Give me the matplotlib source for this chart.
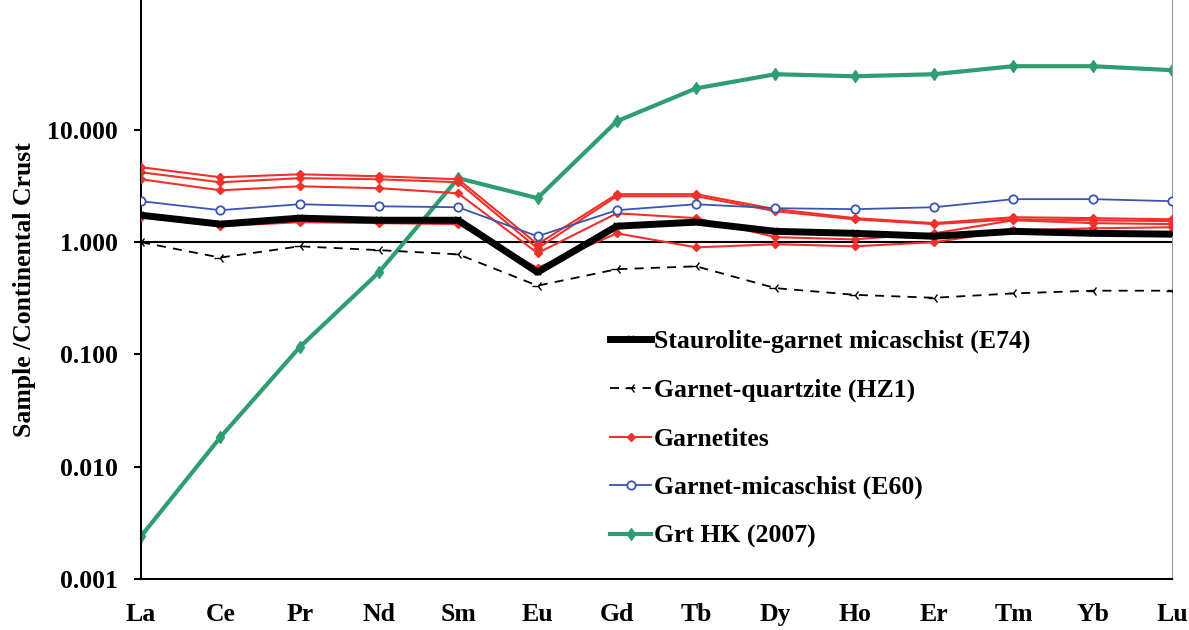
import matplotlib.pyplot as plt
from matplotlib.ticker import FixedLocator, FuncFormatter, NullLocator

# REE pattern data normalised to continental crust
elements = ['La', 'Ce', 'Pr', 'Nd', 'Sm', 'Eu', 'Gd', 'Tb', 'Dy', 'Ho', 'Er', 'Tm', 'Yb', 'Lu']

e74 = [1.74, 1.45, 1.64, 1.57, 1.57, 0.54, 1.39, 1.51, 1.25, 1.20, 1.13, 1.25, 1.20, 1.18]
hz1 = [1.00, 0.73, 0.92, 0.85, 0.78, 0.41, 0.575, 0.61, 0.39, 0.34, 0.32, 0.35, 0.37, 0.37]
garnetite_1 = [4.66, 3.79, 4.03, 3.87, 3.64, 0.96, 2.68, 2.68, 1.97, 1.64, 1.48, 1.67, 1.64, 1.60]
garnetite_2 = [4.20, 3.42, 3.72, 3.64, 3.42, 0.88, 2.57, 2.57, 1.89, 1.60, 1.45, 1.60, 1.57, 1.54]
garnetite_3 = [3.64, 2.90, 3.15, 3.03, 2.73, 0.80, 1.81, 1.64, 1.11, 1.06, 1.20, 1.57, 1.48, 1.45]
garnetite_4 = [1.67, 1.39, 1.51, 1.48, 1.45, 0.59, 1.20, 0.90, 0.96, 0.92, 1.00, 1.28, 1.33, 1.36]
e60 = [2.32, 1.93, 2.18, 2.09, 2.05, 1.13, 1.93, 2.18, 2.01, 1.97, 2.05, 2.42, 2.42, 2.32]
grt_hk = [0.0024, 0.0183, 0.116, 0.54, 3.72, 2.47, 11.97, 23.5, 31.4, 30.1, 31.4, 37.0, 37.0, 34.1]

garnetites = [garnetite_1, garnetite_2, garnetite_3, garnetite_4]

plt.rcParams['font.family'] = ['Liberation Serif', 'DejaVu Serif']
plt.rcParams['font.weight'] = 'bold'

fig = plt.figure(figsize=(11.89, 6.30), dpi=100)
ax = fig.add_axes([0.1186, 0.081, 0.8671, 0.919])

x = list(range(len(elements)))

ax.axhline(1.0, color='black', lw=1.5, zorder=1)

ax.plot(x, grt_hk, color='#2e9e72', lw=3, marker='d', ms=6, label='Grt HK (2007)', zorder=2)
for i, g in enumerate(garnetites):
    ax.plot(x, g, color='#f0302a', lw=1.5, marker='D', ms=4.5,
            label='Garnetites' if i == 0 else None, zorder=3)
ax.plot(x, e60, color='#3a55b0', lw=1.3, marker='o', ms=6, mfc='white', mew=1.3,
        label='Garnet-micaschist (E60)', zorder=3)
ax.plot(x, hz1, color='black', lw=1.3, ls=(0, (5, 4)), marker='3', ms=8,
        label='Garnet-quartzite (HZ1)', zorder=4)
ax.plot(x, e74, color='black', lw=5, marker='x', ms=5, mew=1.5,
        label='Staurolite-garnet micaschist (E74)', zorder=5)

ax.set_yscale('log')
ax.set_ylim(0.001, 143.9)
ax.set_xlim(0, 13)
ax.yaxis.set_major_locator(FixedLocator([0.001, 0.01, 0.1, 1, 10]))
ax.yaxis.set_minor_locator(NullLocator())
ax.yaxis.set_major_formatter(FuncFormatter(lambda v, p: '%.3f' % v))
ax.set_xticks(x)
ax.set_xticklabels(elements)
ax.tick_params(axis='both', labelsize=18.5, direction='out', width=1.5)
ax.tick_params(axis='y', length=5, pad=12)
ax.tick_params(axis='x', length=0, pad=17)

ax.spines['top'].set_visible(False)
ax.spines['right'].set_color('#999999')
ax.spines['left'].set_linewidth(1.5)
ax.spines['bottom'].set_linewidth(1.5)

ax.set_ylabel('Sample /Continental Crust', fontsize=18.5, fontweight='bold', labelpad=8)

handles, labels = ax.get_legend_handles_labels()
order = [4, 3, 1, 2, 0]
ax.legend([handles[i] for i in order], [labels[i] for i in order],
          loc='upper left', bbox_to_anchor=(0.445, 0.448), frameon=False,
          prop={'size': 18.5, 'weight': 'bold'}, labelspacing=0.99,
          handlelength=1.6, handletextpad=0.1, borderaxespad=0)

plt.savefig('out.png', dpi=100)
